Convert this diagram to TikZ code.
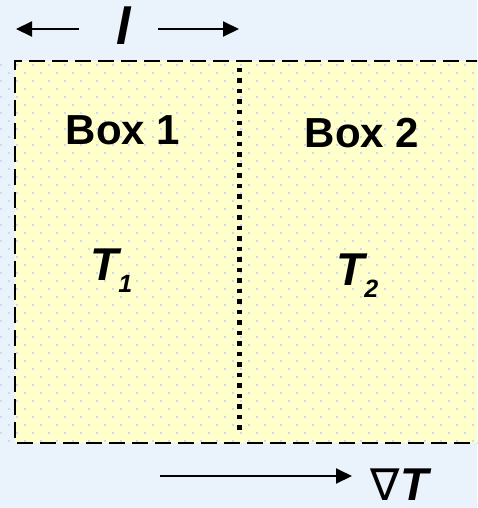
\documentclass[tikz,border=0pt]{standalone}
\usepackage{fontspec}
\setmainfont{Liberation Sans}
\newfontfamily\symfont{DejaVu Sans}
\usetikzlibrary{arrows.meta}
\definecolor{bgblue}{HTML}{EAF2FB}
\definecolor{boxyellow}{HTML}{FFFFCC}
\definecolor{dotblue}{HTML}{C8DCF0}
\newcommand{\subidx}[1]{\raisebox{-12pt}{\fontsize{25}{30}\selectfont #1}}
\begin{document}
\begin{tikzpicture}[x=1pt,y=-1pt]
    \tikzset{
        boxlabel/.style={font=\bfseries\fontsize{42}{50}\selectfont, anchor=base},
        templabel/.style={font=\bfseries\itshape\fontsize{46}{54}\selectfont, anchor=base west, inner sep=0},
        arc/.style={-{Triangle[length=16pt,width=15pt]}, line width=2pt}
    }
    \clip (0,0) rectangle (477,508);
    \fill[bgblue] (0,0) rectangle (477,508);

    % the two boxes
    \fill[boxyellow] (15,61) rectangle (482,443);
    \foreach \yy in {64,80,...,440}{
        \foreach \xx in {0,16,...,480}{
            \fill[dotblue] (\xx,\yy) rectangle +(1.6,1.6);
            \fill[dotblue] (\xx+8,\yy+8) rectangle +(1.6,1.6);
        }
    }
    \draw[line width=2pt, dash pattern=on 16pt off 7pt] (482,61) -- (15,61) -- (15,443) -- (482,443);
    \coordinate (wtop) at (239.5,68);
    \coordinate (wbot) at (239.5,430);
    \draw[line width=4.5pt, dash pattern=on 4.5pt off 6pt] (wtop) -- (wbot);

    \node[boxlabel] (box1) at (123,144) {Box 1};
    \node[boxlabel] (box2) at (362,147) {Box 2};
    \node[templabel] (t1) at (90,280) {T\subidx{1}};
    \node[templabel] (t2) at (336,285) {T\subidx{2}};

    % length of one box
    \node[font=\bfseries\itshape\fontsize{52}{60}\selectfont, inner sep=0] (len) at (124,26) {l};
    \coordinate (lleft) at (16,29);
    \coordinate (lright) at (239,29);
    \draw[arc] ([xshift=-38pt]len.west |- lleft) -- (lleft);
    \draw[arc] ([xshift=27pt]len.east |- lright) -- (lright);

    % gradient
    \coordinate (gfrom) at (160,476);
    \node[anchor=base west, inner sep=0] (grad) at (370,500) {{\symfont\fontsize{44}{52}\selectfont ∇}\kern1pt{\bfseries\itshape\fontsize{46}{54}\selectfont T}};
    \draw[arc] (gfrom) -- ([xshift=-18pt]grad.west |- gfrom);
\end{tikzpicture}
\end{document}
